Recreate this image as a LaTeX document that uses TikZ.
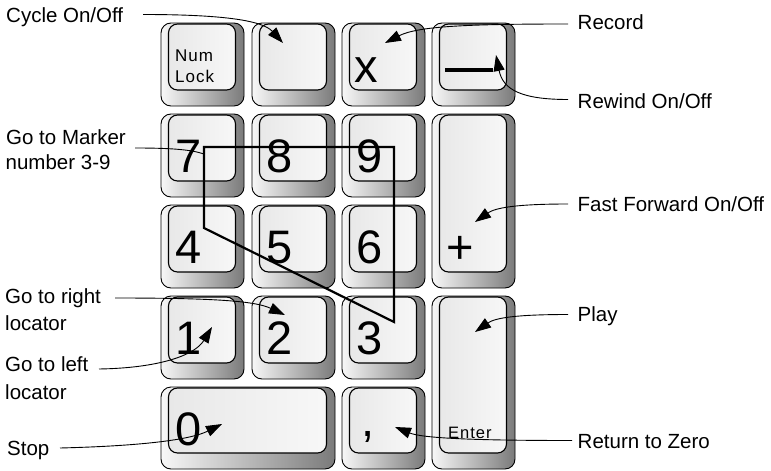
\documentclass[tikz,border=0pt]{standalone}
\usepackage{fontspec}
\setmainfont{Liberation Sans}
\newfontfamily\spacedfont[LetterSpace=6]{Liberation Sans}
\usetikzlibrary{arrows.meta}
\tikzset{
 keyout/.style={draw=black, line width=0.9pt, rounded corners=10pt, left color=black!3, right color=black!52, inner sep=0pt, outer sep=0pt},
 keyin/.style={draw=black, line width=1.1pt, rounded corners=9pt, left color=black!9, right color=black!3, inner sep=0pt, outer sep=0pt},
 bigglyph/.style={inner sep=0pt, anchor=base west, font=\fontsize{47}{50}\selectfont},
 smallglyph/.style={inner sep=0pt, anchor=base west, font=\spacedfont\fontsize{17}{19}\selectfont},
 lbl/.style={inner sep=0pt, anchor=base west, font=\fontsize{20.5}{24}\selectfont},
 leader/.style={line width=0.9pt},
 arr/.style={leader, -{Triangle[length=16pt,width=11pt]}},
 marker/.style={line width=2.2pt, line join=miter},
}
\newcommand\keycap[5]{%
  \node[keyout, minimum width=#4pt, minimum height=#5pt] (#1o) at ({#2+#4/2},{#3+#5/2}) {};
  \node[keyin, minimum width={#4pt-16pt}, minimum height={#5pt-17pt}] (#1) at ({#2+#4/2-0.5},{#3+#5/2-7.5}) {};
}
\begin{document}
\begin{tikzpicture}[x=1pt,y=-1pt]
\useasboundingbox (0,0) rectangle (771,471);
\path[fill=white] (0,0) rectangle (771,471);
% keys
\keycap{knum}{161}{23}{83}{83}
\keycap{kslash}{252}{23}{83}{83}
\keycap{kstar}{342}{23}{83}{83}
\keycap{kminus}{432}{23}{83}{83}
\keycap{kseven}{161}{114}{83}{83}
\keycap{keight}{252}{114}{83}{83}
\keycap{knine}{342}{114}{83}{83}
\keycap{kplus}{432}{114}{83}{174}
\keycap{kfour}{161}{205}{83}{83}
\keycap{kfive}{252}{205}{83}{83}
\keycap{ksix}{342}{205}{83}{83}
\keycap{kone}{161}{296}{83}{83}
\keycap{ktwo}{252}{296}{83}{83}
\keycap{kthree}{342}{296}{83}{83}
\keycap{kenter}{432}{296}{83}{173}
\keycap{kzero}{161}{387}{174}{82}
\keycap{kdot}{342}{387}{83}{82}
% key glyphs
\node[smallglyph] (tnum) at (175,61) {Num};
\node[smallglyph] (tlock) at (175,82) {Lock};
\node[bigglyph] (tx) at (354,82) {x};
\node[fill=black, inner sep=0pt, minimum width=48pt, minimum height=3.5pt] (tminus) at (469,70) {};
\node[bigglyph] (t7) at (175,172) {7};
\node[bigglyph] (t8) at (266,172) {8};
\node[bigglyph] (t9) at (356,172) {9};
\node[bigglyph] (t4) at (175,263) {4};
\node[bigglyph] (t5) at (266,263) {5};
\node[bigglyph] (t6) at (356,263) {6};
\node[bigglyph] (tplus) at (446,263) {+};
\node[bigglyph] (t1) at (175,354) {1};
\node[bigglyph] (t2) at (266,354) {2};
\node[bigglyph] (t3) at (356,354) {3};
\node[bigglyph] (t0) at (175,445) {0};
\node[bigglyph] (tcomma) at (361,436) {,};
\node[inner sep=0pt, anchor=base west, font=\spacedfont\fontsize{16.5}{18}\selectfont] (tenter) at (448,438.5) {Enter};
% marker path
\coordinate (m1) at (204,147);
\coordinate (m2) at (394,147);
\coordinate (m3) at (394,322);
\coordinate (m4) at (204,228);
\draw[marker] (m1) -- (m2) -- (m3) -- (m4) -- cycle;
% labels left
\node[lbl] (lcyc) at (6,22.5) {Cycle On/Off};
\node[lbl] (lmark) at (6,144) {Go to Marker};
\node[lbl] (lmarkb) at (5.5,169) {number 3-9};
\node[lbl] (lright) at (5,303) {Go to right};
\node[lbl] (lrightb) at (5,330) {locator};
\node[lbl] (lleft) at (5,371.7) {Go to left};
\node[lbl] (lleftb) at (5,399) {locator};
\node[lbl] (lstop) at (7,455) {Stop};
% labels right
\node[lbl] (lrec) at (577.5,29.3) {Record};
\node[lbl] (lrew) at (577.5,108.3) {Rewind On/Off};
\node[lbl] (lff) at (577.5,211.7) {Fast Forward On/Off};
\node[lbl] (lplay) at (577.5,321) {Play};
\node[lbl] (lret) at (577.5,448.3) {Return to Zero};
% connector ends
\coordinate (sCyc) at (143,14.5);   \coordinate (eCyc) at (283,43);
\coordinate (sRec) at (568,24);     \coordinate (eRec) at (385,43);
\coordinate (sRew) at (568,99.5);   \coordinate (eRew) at (496,55);
\coordinate (sFF) at (568,204);     \coordinate (eFF) at (475,222);
\coordinate (sPlay) at (568,314.5); \coordinate (ePlay) at (475,332);
\coordinate (sRet) at (572,440.5);  \coordinate (eRet) at (395,427);
\coordinate (sMark) at (135,148);   \coordinate (eMark) at (204,154);
\coordinate (sRight) at (115,298);  \coordinate (eRight) at (285,315);
\coordinate (sLeft) at (99,369);    \coordinate (eLeft) at (212,327);
\coordinate (sStop) at (60,448);    \coordinate (eStop) at (222,424);
% connectors
\draw[arr] (sCyc) .. controls (220,14.5) and (262,20) .. (eCyc);
\draw[arr] (sRec) .. controls (470,24) and (418,26) .. (eRec);
\draw[arr] (sRew) .. controls (522,99.5) and (503,90) .. (eRew);
\draw[arr] (sFF) .. controls (515,204) and (495,208) .. (eFF);
\draw[arr] (sPlay) .. controls (515,314.5) and (495,318) .. (ePlay);
\draw[arr] (sRet) .. controls (470,440.5) and (422,438) .. (eRet);
\draw[leader] (sMark) .. controls (175,148) and (192,150) .. (eMark);
\draw[arr] (sRight) .. controls (215,298) and (255,301) .. (eRight);
\draw[arr] (sLeft) .. controls (160,368) and (195,355) .. (eLeft);
\draw[arr] (sStop) .. controls (140,446) and (190,440) .. (eStop);
\end{tikzpicture}
\end{document}
